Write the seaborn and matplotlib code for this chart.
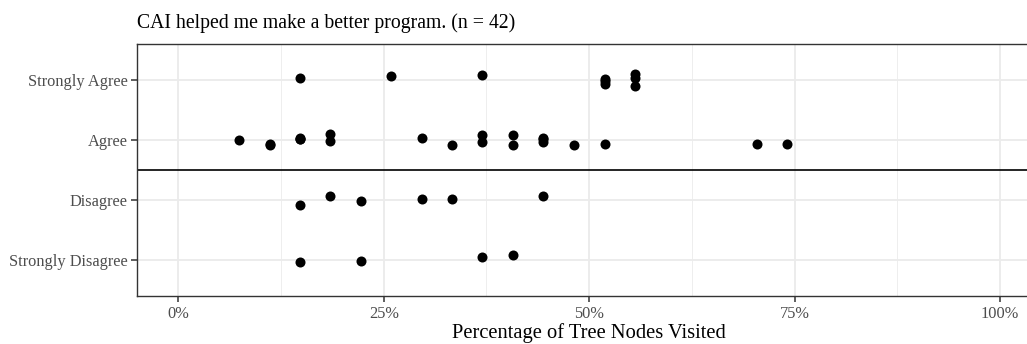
import matplotlib
matplotlib.use("Agg")
import matplotlib.pyplot as plt
from matplotlib.ticker import PercentFormatter, FixedLocator
import seaborn as sns
import pandas as pd

# response levels, top to bottom
levels = ['Strongly Agree', 'Agree', 'Disagree', 'Strongly Disagree']

# share of tree nodes visited, per response
strongly_agree = [0.148, 0.259, 0.370, 0.519, 0.519, 0.519, 0.556, 0.556, 0.556]
agree = [0.074, 0.111, 0.111, 0.148, 0.148, 0.148, 0.185, 0.185, 0.296, 0.333,
         0.370, 0.370, 0.407, 0.407, 0.444, 0.444, 0.444, 0.481, 0.519, 0.704, 0.741]
disagree = [0.148, 0.185, 0.222, 0.296, 0.333, 0.444]
strongly_disagree = [0.148, 0.222, 0.370, 0.407]

# vertical jitter (fraction of row spacing, up = +)
jit_sa = [0.04, 0.07, 0.08, 0.01, -0.06, -0.02, 0.10, 0.03, -0.10]
jit_a = [0.00, -0.06, -0.08, 0.04, 0.01, 0.02, 0.10, -0.02, 0.03, -0.09,
         0.08, -0.04, 0.09, -0.09, 0.04, -0.03, 0.01, -0.09, -0.07, -0.07, -0.06]
jit_d = [-0.08, 0.06, -0.01, 0.02, 0.02, 0.06]
jit_sd = [-0.03, -0.01, 0.05, 0.08]

n_total = 42

rows = []
for lvl, vals, jit in zip(levels, [strongly_agree, agree, disagree, strongly_disagree],
                          [jit_sa, jit_a, jit_d, jit_sd]):
    pos = len(levels) - levels.index(lvl)
    for v, j in zip(vals, jit):
        rows.append({'Response': lvl, 'pct': v, 'ypos': pos + j})
df = pd.DataFrame(rows)

sns.set_theme(style='white')
plt.rcParams['font.family'] = ['Liberation Serif', 'DejaVu Serif']

fig = plt.figure(figsize=(10.27, 3.44), dpi=100)
ax = fig.add_axes([0.1337, 0.1395, 0.880, 0.7326])

grid_col = '#EBEBEB'
for v in [0.125, 0.375, 0.625, 0.875]:
    ax.axvline(v, color=grid_col, lw=0.6, zorder=0)
for v in [0, 0.25, 0.5, 0.75, 1.0]:
    ax.axvline(v, color=grid_col, lw=1.3, zorder=0)
for p in range(1, len(levels) + 1):
    ax.axhline(p, color=grid_col, lw=1.3, zorder=0)

ax.axhline(2.5, color='black', lw=1.2, zorder=1)

sns.scatterplot(data=df, x='pct', y='ypos', color='black', s=52, linewidth=0,
                ax=ax, zorder=3, legend=False)

ax.set_xlim(-0.05, 1.05)
ax.set_ylim(0.4, 4.6)
ax.xaxis.set_major_locator(FixedLocator([0, 0.25, 0.5, 0.75, 1.0]))
ax.xaxis.set_major_formatter(PercentFormatter(1.0, decimals=0))
ax.set_yticks(range(len(levels), 0, -1))
ax.set_yticklabels(levels)

ax.tick_params(axis='both', which='major', length=4, width=1.1, color='#333333',
               labelsize=11.8, labelcolor='#4D4D4D', pad=3, direction='out',
               bottom=True, left=True)
for s in ax.spines.values():
    s.set_color('#333333')
    s.set_linewidth(1.0)

ax.set_xlabel('Percentage of Tree Nodes Visited', fontsize=14.8, color='black', labelpad=1)
ax.set_ylabel('')

fig.text(0.1337, 1 - 23 / 344, f'CAI helped me make a better program. (n = {n_total})',
         fontsize=14.2, va='center', ha='left', color='black')

fig.savefig('out.png', dpi=100)
